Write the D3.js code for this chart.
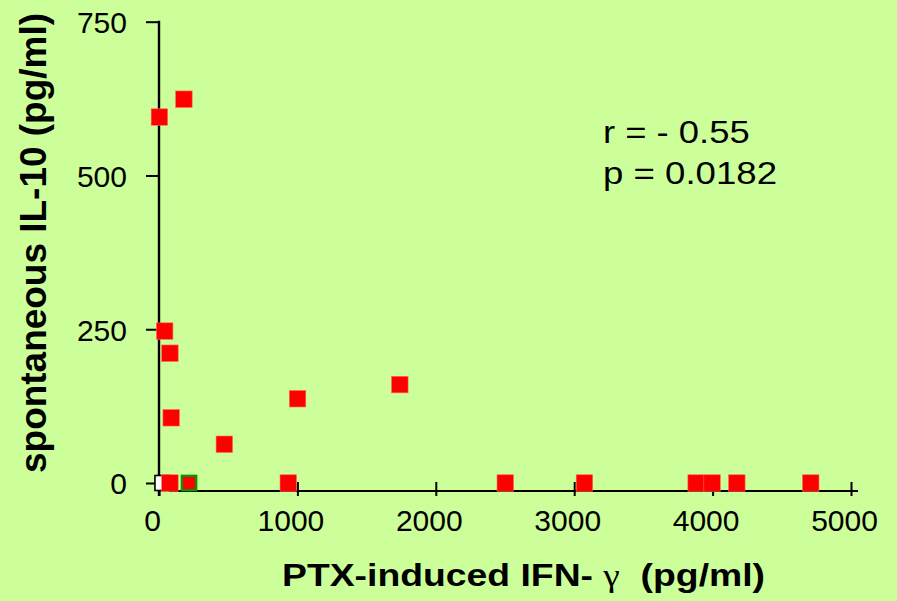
<!DOCTYPE html>
<html>
<head>
<meta charset="utf-8">
<script src="https://cdn.jsdelivr.net/npm/d3@7"></script>
<style>
  html, body { margin: 0; padding: 0; background: #CCFF99; }
  svg { display: block; }
  text { font-family: "Liberation Sans", Arial, sans-serif; fill: #000; }
</style>
</head>
<body>
<svg id="chart" width="897" height="601"></svg>
<script>
// ---- data ----
const ifnRed   = [3, 180, 41, 79, 88, 472, 1001, 1740, 79, 934, 2502, 3074, 3881, 3996, 4175, 4709];
const il10Red  = [595, 624, 247, 211, 106, 63, 137, 160, 0, 0, 0, 0, 0, 0, 0, 0];
const ifnGreen = [217];
const il10Green = [0];
const ifnOpen  = [25];
const il10Open = [0];
const xTicks = [0, 1000, 2000, 3000, 4000, 5000];
const yTicks = [0, 250, 500, 750];
const statLines = ["r = - 0.55", "p = 0.0182"];

const svg = d3.select("#chart");
svg.append("rect").attr("width", 897).attr("height", 601).attr("fill", "#CCFF99");

const x = d3.scaleLinear().domain([0, 5000]).range([159, 851]);
const y = d3.scaleLinear().domain([0, 750]).range([483, 21.7]);
const xAxisY = y(0) + 8;
const fmt = d3.format("d");

// y axis
const gy = svg.append("g").attr("transform", `translate(${x(0)},0)`)
  .call(d3.axisLeft(y).tickValues(yTicks).tickFormat(fmt).tickSize(13).tickSizeOuter(0).tickPadding(0));
gy.select(".domain").remove();
gy.selectAll(".tick line").attr("stroke", "#000").attr("stroke-width", 2);
gy.selectAll(".tick text").attr("x", -32).attr("dy", "0.36em")
  .attr("font-size", 30).attr("font-family", "Liberation Sans, Arial, sans-serif").attr("text-anchor", "end");
svg.append("line").attr("x1", x(0)).attr("x2", x(0)).attr("y1", y(750) - 1).attr("y2", xAxisY + 5)
  .attr("stroke", "#000").attr("stroke-width", 2.4);

// x axis
const gx = svg.append("g").attr("transform", `translate(0,${xAxisY})`)
  .call(d3.axisBottom(x).tickValues(xTicks).tickFormat(fmt).tickSizeOuter(0));
gx.select(".domain").remove();
gx.selectAll(".tick line").attr("y1", -9).attr("y2", 5).attr("stroke", "#000").attr("stroke-width", 2);
gx.selectAll(".tick text").attr("y", 40).attr("dy", 0).attr("dx", -7)
  .attr("font-size", 30).attr("font-family", "Liberation Sans, Arial, sans-serif");
svg.append("line").attr("x1", x(0) + 10).attr("x2", x(5000) + 7).attr("y1", xAxisY).attr("y2", xAxisY)
  .attr("stroke", "#000").attr("stroke-width", 2);

// markers
const S = 16.5;
const open = ifnOpen.map((v, i) => ({ x: v, y: il10Open[i] }));
svg.append("g").selectAll("rect").data(open).join("rect")
  .attr("x", d => x(d.x) - 7.5).attr("y", d => y(d.y) - 7.5)
  .attr("width", 15).attr("height", 15)
  .attr("fill", "#fff").attr("stroke", "#000").attr("stroke-width", 1.6);

const red = ifnRed.map((v, i) => ({ x: v, y: il10Red[i] }));
svg.append("g").selectAll("rect").data(red).join("rect")
  .attr("x", d => x(d.x) - S / 2).attr("y", d => y(d.y) - S / 2)
  .attr("width", S).attr("height", S)
  .attr("fill", "#FF0000").attr("stroke", "#ff6a5a").attr("stroke-width", 0.6);

const green = ifnGreen.map((v, i) => ({ x: v, y: il10Green[i] }));
svg.append("g").selectAll("rect").data(green).join("rect")
  .attr("x", d => x(d.x) - S / 2 + 1).attr("y", d => y(d.y) - S / 2 + 1)
  .attr("width", S - 2).attr("height", S - 2)
  .attr("fill", "#FF0000").attr("stroke", "#009a00").attr("stroke-width", 2.2);

// stats annotation
const lens = [146.7, 174];
svg.append("g").selectAll("text").data(statLines).join("text")
  .attr("x", 603).attr("y", (d, i) => 143 + i * 40.5)
  .attr("font-size", 32)
  .attr("textLength", (d, i) => lens[i]).attr("lengthAdjust", "spacingAndGlyphs")
  .text(d => d);

// x title
const xt = svg.append("text").attr("x", 282).attr("y", 586)
  .attr("font-size", 32).attr("font-weight", "bold")
  .attr("textLength", 483).attr("lengthAdjust", "spacingAndGlyphs");
xt.append("tspan").text("PTX-induced IFN- ");
xt.append("tspan").attr("font-family", "Liberation Serif, Times New Roman, serif")
  .attr("font-weight", "normal").text("γ");
xt.append("tspan").text("  (pg/ml)").attr("xml:space", "preserve");

// y title
svg.append("text").attr("transform", "translate(46,473) rotate(-90)")
  .attr("x", 0).attr("y", 0)
  .attr("font-size", 37).attr("font-weight", "bold")
  .attr("textLength", 460).attr("lengthAdjust", "spacingAndGlyphs")
  .text("spontaneous IL-10 (pg/ml)");
</script>
</body>
</html>
